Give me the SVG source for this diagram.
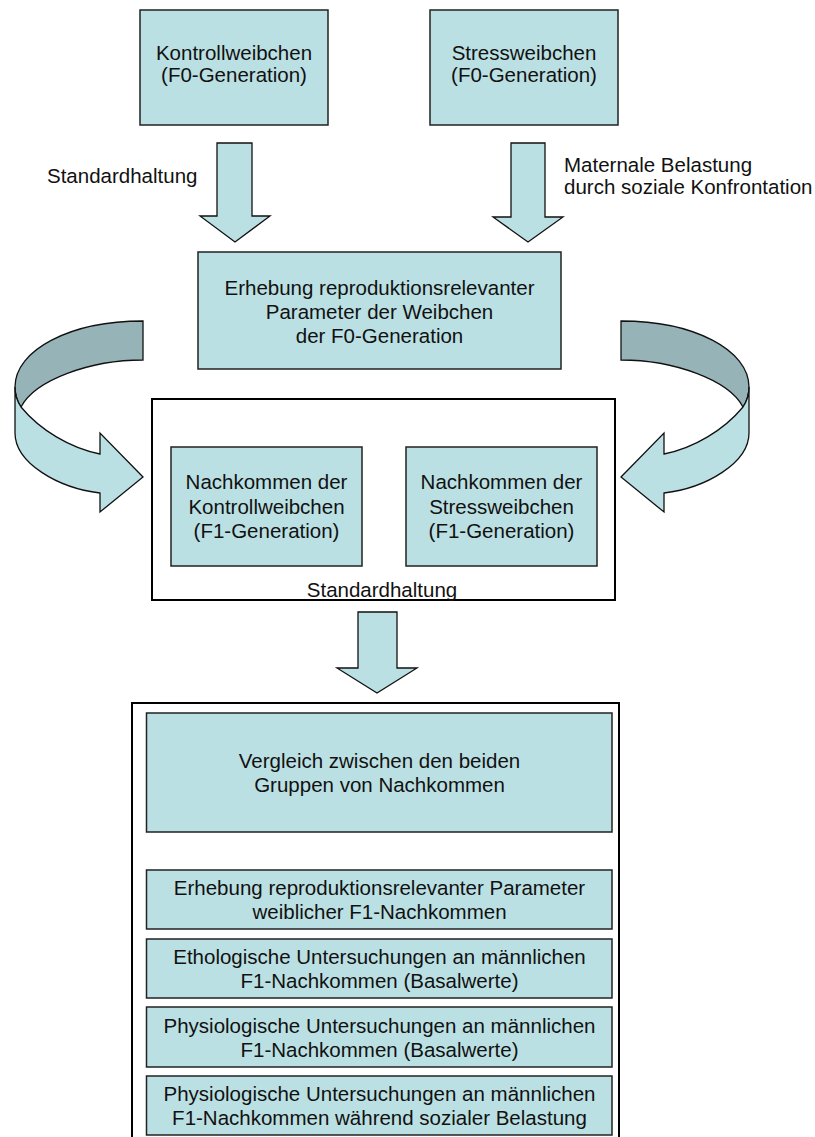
<svg xmlns="http://www.w3.org/2000/svg" width="815" height="1137" viewBox="0 0 815 1137">
<defs>
<style>
.box{fill:#BBE0E3;stroke:#222;stroke-width:1.5}
.frame{fill:#fff;stroke:#000;stroke-width:2}
.arr{fill:#BBE0E3;stroke:#111;stroke-width:1.3;stroke-linejoin:miter}
.dark{fill:#96B4B7;stroke:#111;stroke-width:1.3}
.t{font-family:"Liberation Sans",Arial,sans-serif;font-size:20.5px;fill:#111;text-anchor:middle}
.l{font-family:"Liberation Sans",Arial,sans-serif;font-size:20.5px;fill:#111}
</style>
<g id="curved">
<path class="dark" d="M143,321 L143,360 C90,360 35,380 21,407 Q15,398 15,387 C15,350 70,321 143,321 Z"/>
<path class="arr" d="M15,387 Q15,398 21,407 C40,430 70,448 100,454 L100,433 L143,477 L100,512 L100,493 C58,488 15,463 15,433 Z"/>
</g>
</defs>
<rect width="815" height="1137" fill="#fff"/>

<g id="frames">
<rect class="frame" x="152" y="399" width="463" height="201"/>
<rect class="frame" x="132" y="703" width="487" height="440"/>
</g>

<g id="connectors">
<polygon class="arr" points="217,143 252,143 252,216 270,216 235,242 200,216 217,216"/>
<polygon class="arr" points="511,143 545,143 545,217 563,217 528,242 493,217 511,217"/>
<polygon class="arr" points="358,612 397,612 397,668 417,668 377,693 337,668 358,668"/>
<use href="#curved"/>
<use href="#curved" transform="translate(764,0) scale(-1,1)"/>
</g>

<g id="n_kontroll">
<rect class="box" x="140" y="10" width="188" height="115"/>
<text class="t" x="234" y="60">Kontrollweibchen</text>
<text class="t" x="234" y="82">(F0-Generation)</text>
</g>
<g id="n_stress">
<rect class="box" x="430" y="10" width="188" height="115"/>
<text class="t" x="524" y="60">Stressweibchen</text>
<text class="t" x="524" y="82">(F0-Generation)</text>
</g>

<g id="label_standard">
<text class="l" x="47" y="183">Standardhaltung</text>
</g>
<g id="label_maternal">
<text class="l" x="564" y="172">Maternale Belastung</text>
<text class="l" x="564" y="194">durch soziale Konfrontation</text>
</g>

<g id="n_erhebung_f0">
<rect class="box" x="198" y="252" width="363" height="117"/>
<text class="t" x="379.5" y="295">Erhebung reproduktionsrelevanter</text>
<text class="t" x="379.5" y="319">Parameter der Weibchen</text>
<text class="t" x="379.5" y="343">der F0-Generation</text>
</g>

<g id="n_nk_kontroll">
<rect class="box" x="171" y="447" width="191" height="119"/>
<text class="t" x="266.5" y="489">Nachkommen der</text>
<text class="t" x="266.5" y="514">Kontrollweibchen</text>
<text class="t" x="266.5" y="538">(F1-Generation)</text>
</g>
<g id="n_nk_stress">
<rect class="box" x="406" y="447" width="191" height="119"/>
<text class="t" x="501.5" y="489">Nachkommen der</text>
<text class="t" x="501.5" y="514">Stressweibchen</text>
<text class="t" x="501.5" y="538">(F1-Generation)</text>
</g>
<g id="label_standard2">
<text class="t" x="382" y="597">Standardhaltung</text>
</g>

<g id="n_vergleich">
<rect class="box" x="146.5" y="713" width="465.5" height="119"/>
<text class="t" x="379.5" y="768">Vergleich zwischen den beiden</text>
<text class="t" x="379.5" y="792">Gruppen von Nachkommen</text>
</g>
<g id="n_erhebung_f1">
<rect class="box" x="146.5" y="870" width="465.5" height="59"/>
<text class="t" x="379.5" y="895">Erhebung reproduktionsrelevanter Parameter</text>
<text class="t" x="379.5" y="919">weiblicher F1-Nachkommen</text>
</g>
<g id="n_etho">
<rect class="box" x="146.5" y="939" width="465.5" height="59"/>
<text class="t" x="379.5" y="964">Ethologische Untersuchungen an männlichen</text>
<text class="t" x="379.5" y="988">F1-Nachkommen (Basalwerte)</text>
</g>
<g id="n_physio_basal">
<rect class="box" x="146.5" y="1007" width="465.5" height="60"/>
<text class="t" x="379.5" y="1032.5">Physiologische Untersuchungen an männlichen</text>
<text class="t" x="379.5" y="1056.5">F1-Nachkommen (Basalwerte)</text>
</g>
<g id="n_physio_stress">
<rect class="box" x="146.5" y="1076" width="465.5" height="59"/>
<text class="t" x="379.5" y="1101">Physiologische Untersuchungen an männlichen</text>
<text class="t" x="379.5" y="1125">F1-Nachkommen während sozialer Belastung</text>
</g>
</svg>
